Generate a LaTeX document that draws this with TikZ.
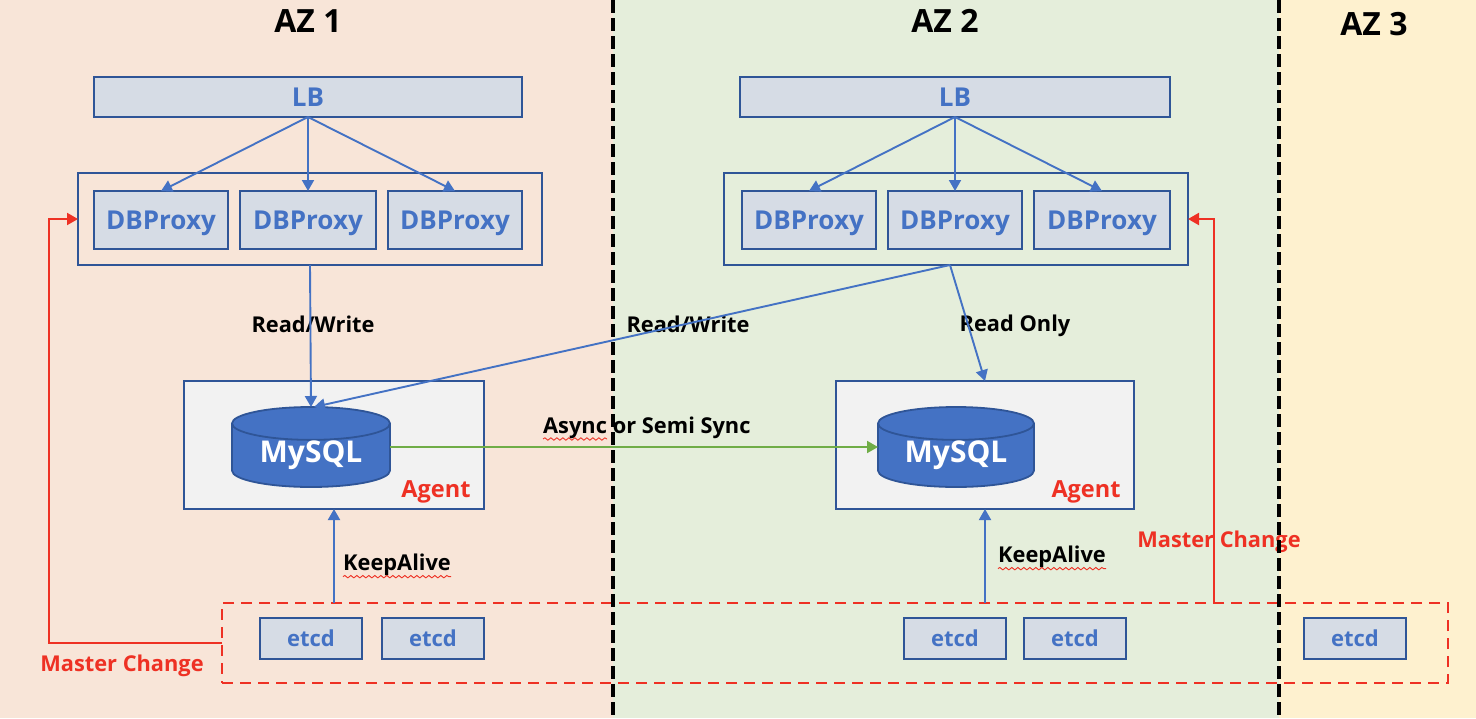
\documentclass[tikz,border=0pt]{standalone}
\usepackage{xcolor}
\usepackage{fontspec}
\setmainfont{Open Sans}
\usetikzlibrary{positioning, arrows.meta, calc, shapes.geometric, decorations.pathmorphing}
\definecolor{zoneA}{HTML}{f8e5d8}
\definecolor{zoneB}{HTML}{e5eedb}
\definecolor{zoneC}{HTML}{fef1cf}
\definecolor{boxFill}{HTML}{d6dce5}
\definecolor{boxEdge}{HTML}{2f5597}
\definecolor{boxText}{HTML}{4472c4}
\definecolor{hostFill}{HTML}{f2f2f2}
\definecolor{alertRed}{HTML}{ee3124}
\definecolor{syncGreen}{HTML}{70ad47}
\newcommand{\pxfont}[1]{\fontsize{#1}{#1}\selectfont\bfseries}

\begin{document}
\begin{tikzpicture}[x=1pt, y=-1pt,
  zone/.style={minimum height=718pt, inner sep=0pt, outer sep=0pt},
  blk/.style={draw=boxEdge, fill=boxFill, line width=1.8pt, text=boxText, inner sep=0pt, outer sep=0pt},
  group/.style={draw=boxEdge, line width=1.8pt, inner sep=0pt, outer sep=0pt},
  proxy/.style={blk, minimum width=134pt, minimum height=58pt, text depth=0pt, font=\pxfont{26}},
  etcdbox/.style={blk, minimum width=102pt, minimum height=41pt, font=\pxfont{22}},
  lbbox/.style={blk, minimum height=40pt, font=\pxfont{26}},
  host/.style={group, fill=hostFill, minimum width=300pt, minimum height=128pt},
  dbcyl/.style={cylinder, shape border rotate=90, aspect=0.32, draw=boxEdge, fill=boxText, line width=1.8pt, minimum width=158pt, minimum height=80pt, inner sep=0pt, outer sep=0pt, anchor=shape center, text=white, font=\pxfont{30}},
  lbl/.style={font=\pxfont{21.8}, text=black, inner sep=0pt},
  azlbl/.style={font=\pxfont{32}, text=black, inner sep=0pt},
  redlbl/.style={font=\pxfont{21.8}, text=alertRed, inner sep=0pt},
  arr/.style={-{Stealth[length=11pt, width=12pt, inset=0pt]}, line width=1.9pt, color=boxText},
  redarr/.style={-{Stealth[length=11pt, width=12pt, inset=0pt]}, line width=2pt, color=alertRed},
  wavy/.style={decorate, decoration={snake, amplitude=1.2pt, segment length=6pt}, color=alertRed, line width=0.9pt},
  sep/.style={line width=3.8pt, color=black, dash pattern=on 13pt off 5pt}]
\useasboundingbox (0,0) rectangle (1476,718);
\node[zone, fill=zoneA, minimum width=613pt] (azA) at (306.5,359) {};
\node[zone, fill=zoneB, minimum width=666pt, right=0pt of azA] (azB) {};
\node[zone, fill=zoneC, minimum width=197pt, right=0pt of azB] (azC) {};
\node[azlbl] (titleA) at (308,21) {AZ 1};
\node[azlbl] (titleB) at (945,21) {AZ 2};
\node[azlbl] (titleC) at (1374,24) {AZ 3};
% proxy tier
\node[lbbox, minimum width=428pt] (lbA) at (308,97) {LB};
\node[lbbox, minimum width=430pt] (lbB) at (955,97) {LB};
\node[group, minimum width=464pt, minimum height=92pt] (grpA) at (310,219) {};
\node[group, minimum width=464pt, minimum height=92pt] (grpB) at (956,219) {};
\node[proxy] (prxA) at (161,220) {DBProxy};
\node[proxy, minimum width=136pt, right=12pt of prxA] (prxB) {DBProxy};
\node[proxy, right=12pt of prxB] (prxC) {DBProxy};
\node[proxy] (prxD) at (809,220) {DBProxy};
\node[proxy, right=12pt of prxD] (prxE) {DBProxy};
\node[proxy, minimum width=136pt, right=12pt of prxE] (prxF) {DBProxy};
% database tier
\node[host] (boxA) at (334,445) {};
\node[host, minimum width=298pt] (boxB) at (985,445) {};
\node[dbcyl] (dbA) at (311,447) {MySQL};
\node[dbcyl, minimum width=156pt] (dbB) at (956,447) {MySQL};
\node[redlbl, font=\pxfont{23.5}] (agentA) at (436,492) {Agent};
\node[redlbl, font=\pxfont{23.5}] (agentB) at (1086,492) {Agent};
% etcd tier
\node[draw=alertRed, line width=1.8pt, dash pattern=on 11pt off 7pt, minimum width=1226pt, minimum height=80pt, inner sep=0pt, outer sep=0pt] (ring) at (835,643) {};
\node[etcdbox] (etcdA) at (311,638.5) {etcd};
\node[etcdbox, right=20pt of etcdA] (etcdB) {etcd};
\node[etcdbox] (etcdC) at (955,638.5) {etcd};
\node[etcdbox, right=18pt of etcdC] (etcdD) {etcd};
\node[etcdbox] (etcdE) at (1355,638.5) {etcd};
\coordinate (turnA) at (49,219);
\coordinate (turnB) at (1214,219);
% labels
\node[lbl] (rwA) at (313,324) {Read/Write};
\node[lbl] (rwB) at (688,324) {Read/Write};
\node[lbl] (ro) at (1015,326) {Read Only};
\node[lbl, anchor=base west] (syncA) at (543,433) {Async};
\node[lbl, right=5.5pt of syncA.base east, anchor=base west] (syncB) {or Semi Sync};
\node[lbl] (kaA) at (397,565) {KeepAlive};
\node[lbl] (kaB) at (1052,557) {KeepAlive};
\node[redlbl] (mcA) at (122,666) {Master Change};
\node[redlbl] (mcB) at (1219,542) {Master Change};
\draw[wavy] ($(syncA.base west)+(0,6)$) -- ($(syncA.base east)+(0,6)$);
\draw[wavy] ($(kaA.base west)+(0,6)$) -- ($(kaA.base east)+(0,6)$);
\draw[wavy] ($(kaB.base west)+(0,6)$) -- ($(kaB.base east)+(0,6)$);
% zone borders
\draw[sep] (azA.north east) -- (azA.south east);
\draw[sep] (azB.north east) -- (azB.south east);
% connectors
\draw[arr] (lbA.south) -- (prxA.north); \draw[arr] (lbA.south) -- (prxB.north); \draw[arr] (lbA.south) -- (prxC.north);
\draw[arr] (lbB.south) -- (prxD.north); \draw[arr] (lbB.south) -- (prxE.north); \draw[arr] (lbB.south) -- (prxF.north);
\draw[arr] (grpA.south) -- (dbA.north);
\draw[arr] ($(grpB.south)+(-6,0)$) -- ($(dbA.north)+(3,0)$);
\draw[arr] ($(grpB.south)+(-6,0)$) -- (boxB.north);
\draw[arr, color=syncGreen] (dbA.shape center -| dbA.east) -- (dbA.shape center -| dbB.west);
\draw[arr] (boxA.south |- ring.north) -- (boxA.south);
\draw[arr] (boxB.south |- ring.north) -- (boxB.south);
\draw[redarr] (ring.west) -| (turnA) -- (grpA.west);
\draw[redarr] (ring.north -| turnB) -- (turnB) -- (grpB.east);
\end{tikzpicture}
\end{document}
